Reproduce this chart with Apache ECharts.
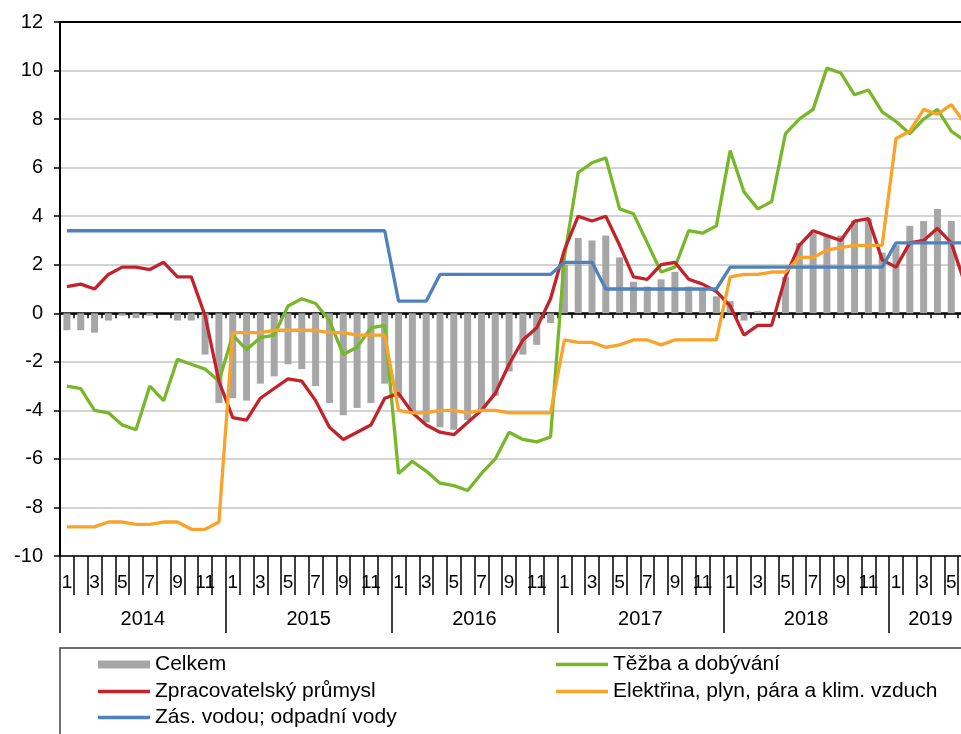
<!DOCTYPE html>
<html lang="cs">
<head>
<meta charset="UTF-8">
<title>Průmyslová produkce podle odvětví</title>
<script src="https://cdn.jsdelivr.net/npm/echarts@6/dist/echarts.min.js"></script>
<style>
  html, body { margin: 0; padding: 0; background: #fff; }
  #main { width: 961px; height: 734px; }
</style>
</head>
<body>
<div id="main"></div>
<script>
// mesice 2014-1 .. 2019-6
var months = [
  '2014-1','2014-2','2014-3','2014-4','2014-5','2014-6','2014-7','2014-8','2014-9','2014-10','2014-11','2014-12',
  '2015-1','2015-2','2015-3','2015-4','2015-5','2015-6','2015-7','2015-8','2015-9','2015-10','2015-11','2015-12',
  '2016-1','2016-2','2016-3','2016-4','2016-5','2016-6','2016-7','2016-8','2016-9','2016-10','2016-11','2016-12',
  '2017-1','2017-2','2017-3','2017-4','2017-5','2017-6','2017-7','2017-8','2017-9','2017-10','2017-11','2017-12',
  '2018-1','2018-2','2018-3','2018-4','2018-5','2018-6','2018-7','2018-8','2018-9','2018-10','2018-11','2018-12',
  '2019-1','2019-2','2019-3','2019-4','2019-5','2019-6'
];

var celkem = [
  -0.7, -0.7, -0.8, -0.3, -0.1, -0.2, -0.1, 0.0, -0.3, -0.3, -1.7, -3.7,
  -3.5, -3.6, -2.9, -2.6, -2.1, -2.3, -3.0, -3.7, -4.2, -3.9, -3.7, -2.9,
  -3.5, -4.1, -4.5, -4.7, -4.8, -4.4, -4.0, -3.4, -2.4, -1.7, -1.3, -0.4,
  2.0, 3.1, 3.0, 3.2, 2.3, 1.3, 1.1, 1.4, 1.7, 1.1, 1.0, 0.7,
  0.5, -0.3, 0.1, 0.0, 1.5, 2.9, 3.3, 3.2, 3.2, 3.8, 3.9, 2.5,
  2.8, 3.6, 3.8, 4.3, 3.8, 3.5
];
var tezba = [
  -3.0, -3.1, -4.0, -4.1, -4.6, -4.8, -3.0, -3.6, -1.9, -2.1, -2.3, -2.8,
  -0.9, -1.5, -1.0, -0.9, 0.3, 0.6, 0.4, -0.3, -1.7, -1.4, -0.6, -0.5,
  -6.6, -6.1, -6.5, -7.0, -7.1, -7.3, -6.6, -6.0, -4.9, -5.2, -5.3, -5.1,
  2.3, 5.8, 6.2, 6.4, 4.3, 4.1, 2.9, 1.7, 1.9, 3.4, 3.3, 3.6,
  6.7, 5.0, 4.3, 4.6, 7.4, 8.0, 8.4, 10.1, 9.9, 9.0, 9.2, 8.3,
  7.9, 7.4, 8.0, 8.4, 7.5, 7.1
];
var zpracovatelsky = [
  1.1, 1.2, 1.0, 1.6, 1.9, 1.9, 1.8, 2.1, 1.5, 1.5, -0.1, -2.8,
  -4.3, -4.4, -3.5, -3.1, -2.7, -2.8, -3.6, -4.7, -5.2, -4.9, -4.6, -3.5,
  -3.3, -4.1, -4.6, -4.9, -5.0, -4.5, -4.0, -3.3, -2.1, -1.1, -0.6, 0.6,
  2.6, 4.0, 3.8, 4.0, 2.8, 1.5, 1.4, 2.0, 2.1, 1.4, 1.2, 0.9,
  0.3, -0.9, -0.5, -0.5, 1.5, 2.8, 3.4, 3.2, 3.0, 3.8, 3.9, 2.2,
  1.9, 2.9, 3.0, 3.5, 2.9, 1.2
];
var elektrina = [
  -8.8, -8.8, -8.8, -8.6, -8.6, -8.7, -8.7, -8.6, -8.6, -8.9, -8.9, -8.6,
  -0.8, -0.8, -0.8, -0.7, -0.7, -0.7, -0.7, -0.8, -0.8, -0.9, -0.9, -0.9,
  -4.0, -4.1, -4.1, -4.0, -4.0, -4.1, -4.0, -4.0, -4.1, -4.1, -4.1, -4.1,
  -1.1, -1.2, -1.2, -1.4, -1.3, -1.1, -1.1, -1.3, -1.1, -1.1, -1.1, -1.1,
  1.5, 1.6, 1.6, 1.7, 1.7, 2.3, 2.3, 2.6, 2.7, 2.8, 2.8, 2.8,
  7.2, 7.5, 8.4, 8.2, 8.6, 7.8
];
var voda = [
  3.4, 3.4, 3.4, 3.4, 3.4, 3.4, 3.4, 3.4, 3.4, 3.4, 3.4, 3.4,
  3.4, 3.4, 3.4, 3.4, 3.4, 3.4, 3.4, 3.4, 3.4, 3.4, 3.4, 3.4,
  0.5, 0.5, 0.5, 1.6, 1.6, 1.6, 1.6, 1.6, 1.6, 1.6, 1.6, 1.6,
  2.1, 2.1, 2.1, 1.0, 1.0, 1.0, 1.0, 1.0, 1.0, 1.0, 1.0, 1.0,
  1.9, 1.9, 1.9, 1.9, 1.9, 1.9, 1.9, 1.9, 1.9, 1.9, 1.9, 1.9,
  2.9, 2.9, 2.9, 2.9, 2.9, 2.9
];

var FONT = '"Liberation Sans", Arial, sans-serif';
var LINE_ICON = 'path://M0,0 L52,0 L52,3.4 L0,3.4 Z';

var chart = echarts.init(document.getElementById('main'));

function lineSeries(name, data, color) {
  return {
    name: name,
    type: 'line',
    data: data,
    symbol: 'none',
    lineStyle: { color: color, width: 3.3 },
    itemStyle: { color: color }
  };
}

function legendBox(left, top, items) {
  return {
    left: left, top: top, orient: 'vertical', padding: 0,
    itemWidth: 52, itemHeight: 8, itemGap: 6,
    textStyle: { fontSize: 21, color: '#000', fontFamily: FONT },
    data: items
  };
}

var option = {
  animation: false,
  backgroundColor: '#fff',
  // graf je v originale vpravo oriznuty (cerven 2019 uz neni videt)
  grid: { left: 60, top: 22, width: 912, bottom: 178, outerBoundsMode: 'none', containLabel: false },
  legend: [
    legendBox(98, 654, [{ name: 'Celkem', icon: 'rect' }, { name: 'Zpracovatelský průmysl', icon: LINE_ICON }]),
    legendBox(98, 707, [{ name: 'Zás. vodou; odpadní vody', icon: LINE_ICON }]),
    legendBox(556, 654, [{ name: 'Těžba a dobývání', icon: LINE_ICON }, { name: 'Elektřina, plyn, pára a klim. vzduch', icon: LINE_ICON }])
  ],
  graphic: [{
    type: 'rect',
    shape: { x: 60, y: 648, width: 960, height: 120 },
    style: { fill: 'none', stroke: '#404040', lineWidth: 1.5 }
  }],
  xAxis: [
    { // osa na nule s kratkymi carkami
      type: 'category', data: months, position: 'bottom',
      axisLine: { onZero: true, lineStyle: { color: '#000', width: 2.5 } },
      axisTick: { show: true, interval: 0, length: 5, lineStyle: { color: '#000', width: 1.5 } },
      axisLabel: { show: false },
      splitLine: { show: false }
    },
    { // mesice
      type: 'category', data: months, position: 'bottom',
      axisLine: { onZero: false, lineStyle: { color: '#000', width: 1.5 } },
      axisTick: { show: true, interval: 0, length: 39, lineStyle: { color: '#000', width: 1.5 } },
      axisLabel: {
        interval: 1, margin: 17, fontSize: 19, color: '#000', fontFamily: FONT,
        formatter: function (v) { return v.split('-')[1]; }
      }
    },
    { // roky
      type: 'category', data: months, position: 'bottom',
      axisLine: { show: false, onZero: false },
      axisTick: {
        show: true, length: 77, lineStyle: { color: '#000', width: 1.5 },
        interval: function (i) { return i % 12 === 0; }
      },
      axisLabel: {
        margin: 53, fontSize: 20, color: '#000', fontFamily: FONT,
        padding: [0, 14, 0, 0],
        interval: function (i) { return i % 12 === 6 || i === 63; },
        formatter: function (v) { return v.split('-')[0]; }
      }
    },
    { // horni okraj
      type: 'category', data: months, position: 'top',
      axisLine: { onZero: false, lineStyle: { color: '#000', width: 2 } },
      axisTick: { show: false },
      axisLabel: { show: false }
    }
  ],
  yAxis: {
    type: 'value', min: -10, max: 12, interval: 2,
    axisLine: { show: true, lineStyle: { color: '#000', width: 2 } },
    axisTick: { show: true, length: 6, lineStyle: { color: '#000', width: 1.5 } },
    axisLabel: { fontSize: 20, color: '#000', margin: 17, fontFamily: FONT },
    splitLine: { lineStyle: { color: '#c4c4c4', width: 1.5 } }
  },
  series: [
    {
      name: 'Celkem', type: 'bar', data: celkem, barWidth: 7,
      itemStyle: { color: '#a6a6a6' }
    },
    lineSeries('Těžba a dobývání', tezba, '#77b82a'),
    lineSeries('Zpracovatelský průmysl', zpracovatelsky, '#c3222a'),
    lineSeries('Elektřina, plyn, pára a klim. vzduch', elektrina, '#f9a32a'),
    lineSeries('Zás. vodou; odpadní vody', voda, '#4f81bd')
  ]
};

chart.setOption(option);
</script>
</body>
</html>
